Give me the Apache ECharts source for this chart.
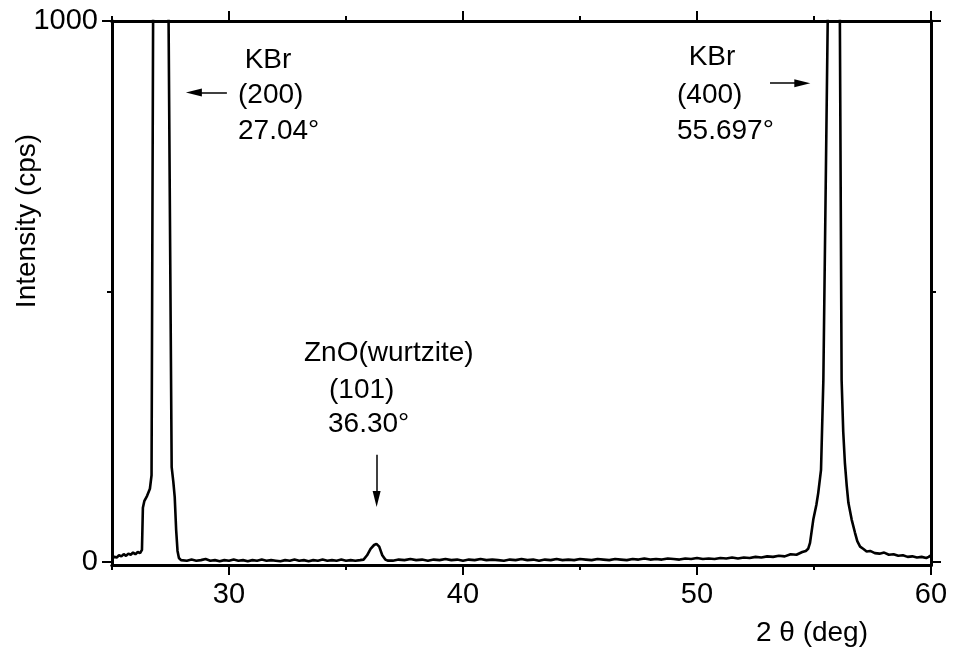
<!DOCTYPE html>
<html>
<head>
<meta charset="utf-8">
<script src="https://cdn.jsdelivr.net/npm/echarts@6.0.0/dist/echarts.min.js"></script>
<style>
html,body{margin:0;padding:0;background:#fff;}
#container{width:958px;height:653px;}
</style>
</head>
<body>
<div id="container"></div>
<script>
// XRD scan, [2theta (deg), intensity (cps)]
var lowAngle = [[25.0,6],[25.1,9],[25.2,8],[25.3,12],[25.4,10],[25.5,14],[25.6,11],[25.7,15],[25.8,13],[25.9,17],[26.0,14],[26.1,18],[26.2,16],[26.28,22]];
var peakKBr200 = [[26.32,100],[26.38,112],[26.5,122],[26.62,135],[26.69,160],[26.76,1050],[26.88,4000],[27.04,9000],[27.22,4000],[27.41,1050],[27.55,175],[27.62,148],[27.68,120],[27.74,60],[27.8,20],[27.86,7],[27.95,3]];
var baseline1 = [[28.0,3],[28.2,2],[28.4,4],[28.6,2],[28.8,3],[29.0,5],[29.2,2],[29.4,3],[29.6,1],[29.8,3],
    [30.0,2],[30.2,4],[30.4,2],[30.6,3],[30.8,1],[31.0,3],[31.2,2],[31.4,4],[31.6,2],[31.8,3],
    [32.0,2],[32.2,1],[32.4,3],[32.6,2],[32.8,4],[33.0,2],[33.2,3],[33.4,1],[33.6,3],[33.8,2],
    [34.0,4],[34.2,2],[34.4,3],[34.6,2],[34.8,4],[35.0,2],[35.2,3],[35.4,2],[35.6,3]];
var peakZnO101 = [[35.75,4],[35.9,12],[36.05,24],[36.2,31],[36.3,33],[36.42,28],[36.55,12],[36.68,4],[36.8,2]];
var baseline2 = [[37.0,2],[37.25,4],[37.5,3],[37.75,5],[38.0,3],[38.25,4],[38.5,2],[38.75,4],[39.0,3],[39.25,5],
    [39.5,3],[39.75,4],[40.0,2],[40.25,4],[40.5,3],[40.75,5],[41.0,3],[41.25,4],[41.5,3],[41.75,2],
    [42.0,4],[42.25,3],[42.5,5],[42.75,3],[43.0,4],[43.25,2],[43.5,4],[43.75,3],[44.0,5],[44.25,3],
    [44.5,4],[44.75,3],[45.0,5],[45.25,4],[45.5,3],[45.75,5],[46.0,4],[46.25,3],[46.5,5],[46.75,4],
    [47.0,3],[47.25,5],[47.5,4],[47.75,6],[48.0,4],[48.25,5],[48.5,4],[48.75,6],[49.0,5],[49.25,4],
    [49.5,6],[49.75,5],[50.0,7],[50.25,5],[50.5,6],[50.75,5],[51.0,7],[51.25,6],[51.5,8],[51.75,6],
    [52.0,8],[52.25,7],[52.5,9],[52.75,8],[53.0,10],[53.25,9],[53.5,11],[53.75,10],[54.0,14],[54.25,13],[54.5,18]];
var peakKBr400 = [[54.65,20],[54.75,24],[54.83,35],[54.97,78],[55.1,105],[55.18,127],[55.3,170],[55.4,336],[55.6,1050],[55.72,4000],[55.85,6000],[55.98,4000],[56.1,1050],[56.18,336],[56.25,240],[56.32,183],[56.4,140],[56.47,109],[56.61,78],[56.75,54],[56.85,38],[56.97,28],[57.1,24],[57.25,19]];
var tail = [[57.4,20],[57.6,16],[57.8,15],[58.0,17],[58.2,13],[58.4,14],[58.6,11],[58.8,12],[59.0,9],[59.2,10],[59.4,8],[59.6,9],[59.8,7],[59.9,9],[60.0,12]];

var xMajorTicks = [30, 40, 50, 60];
var xMinorTicks = [25, 35, 45, 55];
var yMajorTicks = [0, 1000];
var yMinorTicks = [500];

// arrows: [from, to] in data coords (to = centre of the arrow head)
var arrows = [
    [[29.91, 868], [28.5, 868]],
    [[53.12, 885], [54.5, 885]],
    [[36.31, 198], [36.31, 116]]
];

var FONT = '28px "Liberation Sans", Arial, sans-serif';
var scan = [].concat(lowAngle, peakKBr200, baseline1, peakZnO101, baseline2, peakKBr400, tail);

function xAx(pos, ticks, len, labels) {
    return {
        type: 'value', position: pos, min: 25, max: 60,
        axisLine: {show: true, onZero: false, lineStyle: {color: '#000', width: 3}},
        axisTick: {show: true, inside: false, length: len, customValues: ticks, lineStyle: {color: '#000', width: 2}},
        axisLabel: labels ? {show: true, customValues: labels, color: '#000', fontSize: 29, fontFamily: 'Liberation Sans', margin: 15} : {show: false},
        splitLine: {show: false}
    };
}
function yAx(pos, ticks, len, labels) {
    return {
        type: 'value', position: pos, min: -6, max: 1000,
        axisLine: {show: true, onZero: false, lineStyle: {color: '#000', width: 3}},
        axisTick: {show: true, inside: false, length: len, customValues: ticks, lineStyle: {color: '#000', width: 2}},
        axisLabel: labels ? {show: true, customValues: labels, formatter: v => String(v), color: '#000', fontSize: 29, fontFamily: 'Liberation Sans', margin: 14} : {show: false},
        splitLine: {show: false}
    };
}

function txt(s, x, y, align) {
    return {type: 'text', x: x, y: y, silent: true,
        style: {text: s, font: FONT, fill: '#000', align: align || 'left', verticalAlign: 'middle'}};
}

var myChart = echarts.init(document.getElementById('container'));
var option = {
    animation: false,
    backgroundColor: '#fff',
    grid: {left: 112, right: 27, top: 21, bottom: 88},
    xAxis: [
        xAx('bottom', xMajorTicks, 10, xMajorTicks),
        xAx('bottom', xMinorTicks, 5),
        xAx('top', xMajorTicks, 10),
        xAx('top', xMinorTicks, 5)
    ],
    yAxis: [
        yAx('left', yMajorTicks, 10, yMajorTicks),
        yAx('left', yMinorTicks, 5),
        yAx('right', yMajorTicks, 10),
        yAx('right', yMinorTicks, 5)
    ],
    series: [{
        type: 'line',
        data: scan,
        showSymbol: false,
        clip: true,
        lineStyle: {color: '#000', width: 2.6},
        markLine: {
            silent: true,
            symbol: ['none', 'triangle'],
            symbolSize: 12,
            label: {show: false},
            lineStyle: {color: '#000', width: 1.5, type: 'solid'},
            data: arrows.map(a => [
                {coord: a[0], symbol: 'none'},
                {coord: a[1], symbol: 'triangle', symbolSize: [8, 16]}
            ])
        }
    }],
    graphic: [
        txt('KBr', 268, 60, 'center'),
        txt('(200)', 238, 95),
        txt('27.04°', 238, 131),
        txt('KBr', 712, 57, 'center'),
        txt('(400)', 677, 95),
        txt('55.697°', 677, 131),
        txt('ZnO(wurtzite)', 304, 353),
        txt('(101)', 329, 390),
        txt('36.30°', 328, 424),
        txt('2 θ (deg)', 868, 633, 'right'),
        {type: 'text', x: 27, y: 221, rotation: Math.PI / 2, silent: true,
            style: {text: 'Intensity (cps)', font: FONT, fill: '#000', align: 'center', verticalAlign: 'middle'}}
    ]
};
myChart.setOption(option);
</script>
</body>
</html>
